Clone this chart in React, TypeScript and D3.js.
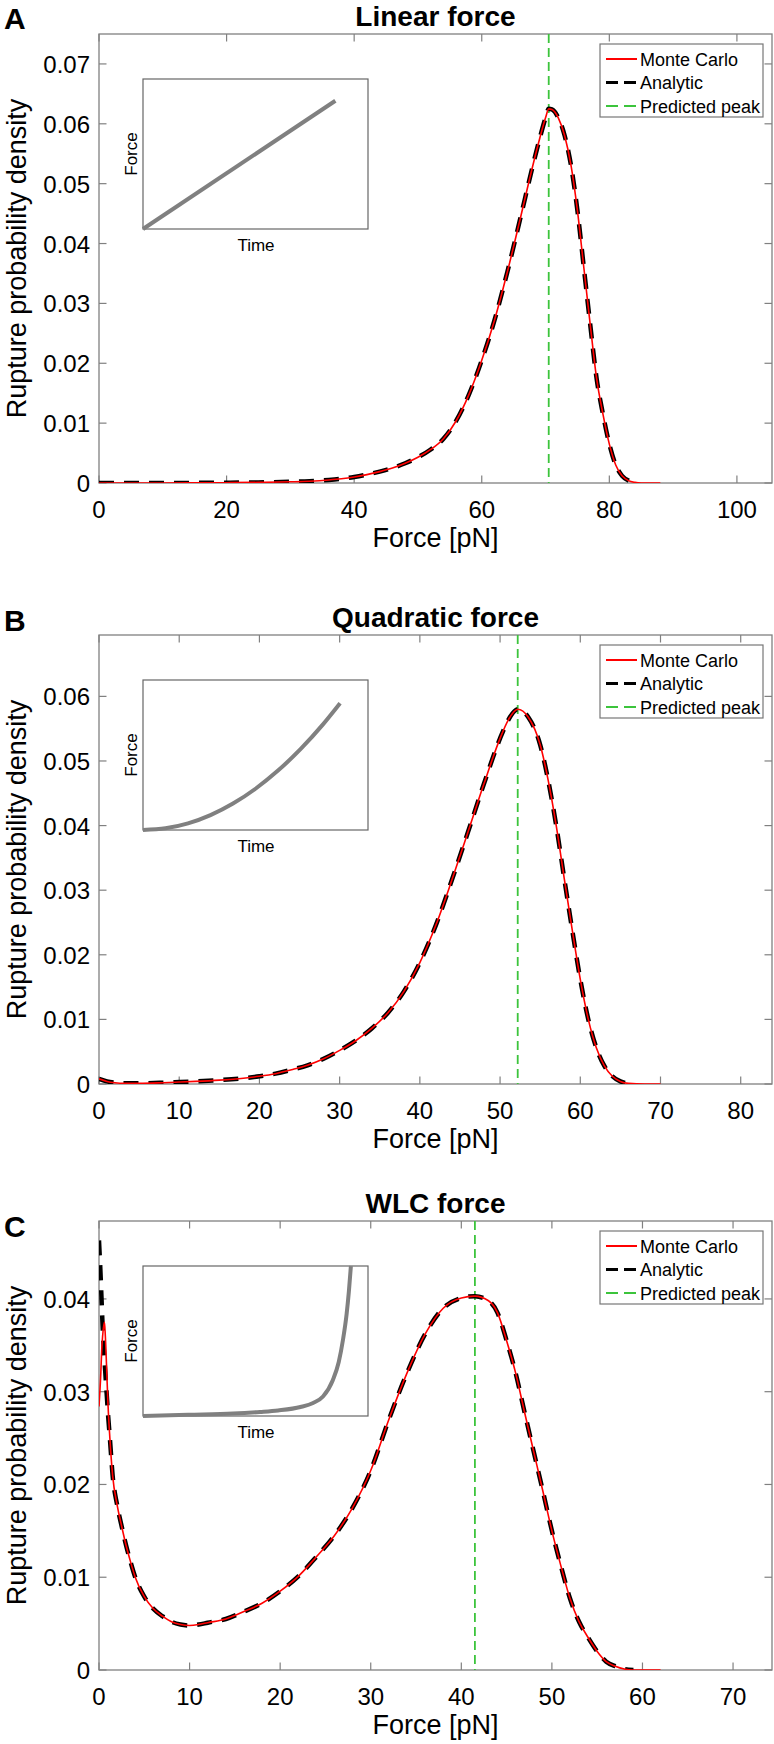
import * as d3 from "d3"

// ---- data ----
// Panel A: linear force loading
const linForce = [0, 5, 10, 15, 20, 25, 30, 33, 36, 38, 40, 42, 44, 46, 48, 50, 52, 54, 56, 58, 60, 62, 64, 66, 68, 69, 70, 70.5, 71, 72, 73, 74, 75, 76, 77, 78, 79, 80, 81, 82, 83, 84, 85, 86, 88]
const linMC = [0, 0, 0, 0.00002, 0.00005, 0.0001, 0.0002, 0.0003, 0.0005, 0.0007, 0.001, 0.0014, 0.0019, 0.0025, 0.0033, 0.0043, 0.0056, 0.0074, 0.0104, 0.0148, 0.0205, 0.0272, 0.0352, 0.044, 0.053, 0.0572, 0.061, 0.0625, 0.0624, 0.061, 0.058, 0.053, 0.0455, 0.036, 0.0265, 0.0175, 0.0115, 0.0065, 0.003, 0.0012, 0.0004, 0.0001, 0, 0, 0]
const linAnalytic = [0, 0, 0, 0.00002, 0.00005, 0.0001, 0.0002, 0.0003, 0.0005, 0.0007, 0.001, 0.0014, 0.0019, 0.0025, 0.0033, 0.0043, 0.0056, 0.0074, 0.0104, 0.0148, 0.0205, 0.0272, 0.0352, 0.044, 0.053, 0.0572, 0.061, 0.0625, 0.0624, 0.061, 0.058, 0.053, 0.0455, 0.036, 0.0265, 0.0175, 0.0115, 0.0065, 0.003, 0.0012, 0.0004, 0.0001, null, null, null]

// Panel B: quadratic force loading
const quadForce = [0, 1, 2, 3, 5, 8, 10, 12, 15, 18, 20, 22, 24, 26, 28, 30, 32, 34, 36, 38, 40, 42, 44, 46, 48, 50, 51, 52.2, 53.5, 55, 56, 57, 58, 59, 60, 61, 62, 63, 64, 65, 66, 68, 70]
const quadMC = [0.0008, 0.0004, 0.0002, 0.0001, 0.0001, 0.0002, 0.0003, 0.0004, 0.0006, 0.0009, 0.0012, 0.0016, 0.0022, 0.0029, 0.0039, 0.0052, 0.0067, 0.0086, 0.011, 0.0143, 0.0188, 0.0246, 0.0316, 0.039, 0.0465, 0.0535, 0.0563, 0.058, 0.0568, 0.0525, 0.047, 0.04, 0.0318, 0.0238, 0.0162, 0.01, 0.0056, 0.0028, 0.0012, 0.0004, 0.0001, 0, 0]
const quadAnalytic = [0.0008, 0.0004, 0.0002, 0.0001, 0.0001, 0.0002, 0.0003, 0.0004, 0.0006, 0.0009, 0.0012, 0.0016, 0.0022, 0.0029, 0.0039, 0.0052, 0.0067, 0.0086, 0.011, 0.0143, 0.0188, 0.0246, 0.0316, 0.039, 0.0465, 0.0535, 0.0563, 0.058, 0.0568, 0.0525, 0.047, 0.04, 0.0318, 0.0238, 0.0162, 0.01, 0.0056, 0.0028, 0.0012, 0.0004, 0.0001, null, null]

// Panel C: worm-like-chain force loading
const wlcForce = [0, 0.2, 0.3, 0.4, 0.6, 0.7, 0.9, 1, 1.2, 1.5, 2, 2.5, 3, 3.5, 4, 5, 6, 7, 8, 9, 10, 11, 12, 14, 16, 18, 20, 22, 24, 26, 28, 30, 32, 34, 36, 38, 40, 41.5, 43, 44, 45, 46, 47, 48, 49, 50, 51, 52, 53, 54, 55, 56, 57, 58, 59, 60, 62]
const wlcMC = [0.0284, 0.032, 0.0345, 0.036, 0.0375, 0.036, 0.031, 0.0285, 0.025, 0.021, 0.0178, 0.0155, 0.0134, 0.0116, 0.01, 0.0079, 0.0066, 0.0058, 0.0052, 0.0049, 0.0048, 0.0049, 0.0051, 0.0055, 0.0063, 0.0072, 0.0085, 0.0101, 0.0122, 0.0145, 0.0175, 0.0215, 0.027, 0.032, 0.0362, 0.039, 0.0401, 0.0403, 0.0398, 0.0385, 0.0355, 0.032, 0.0277, 0.0235, 0.0193, 0.015, 0.0112, 0.0077, 0.0052, 0.0035, 0.002, 0.0009, 0.0004, 0.0001, 0, 0, 0]
const wlcAnalytic = [0.0463, 0.042, 0.0395, 0.037, 0.0335, 0.032, 0.029, 0.0275, 0.025, 0.021, 0.0178, 0.0155, 0.0134, 0.0116, 0.01, 0.0079, 0.0066, 0.0058, 0.0052, 0.0049, 0.0048, 0.0049, 0.0051, 0.0055, 0.0063, 0.0072, 0.0085, 0.0101, 0.0122, 0.0145, 0.0175, 0.0215, 0.027, 0.032, 0.0362, 0.039, 0.0401, 0.0403, 0.0398, 0.0385, 0.0355, 0.032, 0.0277, 0.0235, 0.0193, 0.015, 0.0112, 0.0077, 0.0052, 0.0035, 0.002, 0.0009, 0.0004, 0.0001, 0, null, null]

const peakForce = [70.5, 52.2, 41.5]
const titles = ["Linear force", "Quadratic force", "WLC force"]
const letters = ["A", "B", "C"]
const xTicks = [d3.range(0, 101, 20), d3.range(0, 81, 10), d3.range(0, 71, 10)]
const yTicks = [d3.range(0, 0.0701, 0.01), d3.range(0, 0.0601, 0.01), d3.range(0, 0.0401, 0.01)]
const legendLabels = ["Monte Carlo", "Analytic", "Predicted peak"]

// inset sketches (time vs force, normalised)
const linInsetT = [0, 0.855]
const linInsetF = [0, 0.855]
const quadInsetT = [0, 0.1, 0.2, 0.3, 0.4, 0.5, 0.6, 0.7, 0.8, 0.876]
const quadInsetF = [0, 0.011, 0.044, 0.099, 0.176, 0.275, 0.396, 0.539, 0.704, 0.845]
const wlcInsetT = [0, 0.2, 0.4, 0.52, 0.6, 0.7, 0.756, 0.8, 0.844, 0.87, 0.889, 0.905, 0.915, 0.924]
const wlcInsetF = [0, 0.008, 0.016, 0.027, 0.037, 0.06, 0.087, 0.13, 0.24, 0.36, 0.51, 0.68, 0.83, 1.0]

// ---- layout ----
const W = 774
const H = 1744
const L = 99
const R = 772
const PH = 449
const FONT = "Helvetica, Arial, 'Liberation Sans', sans-serif"
const AXIS = "#808080"

const panels = [
  { top: 34, xMax: 105.5, yMax: 0.075, force: linForce, mc: linMC, an: linAnalytic, it: linInsetT, iF: linInsetF, letterDy: -5 },
  { top: 635, xMax: 83.9, yMax: 0.0695, force: quadForce, mc: quadMC, an: quadAnalytic, it: quadInsetT, iF: quadInsetF, letterDy: -4 },
  { top: 1221, xMax: 74.3, yMax: 0.0484, force: wlcForce, mc: wlcMC, an: wlcAnalytic, it: wlcInsetT, iF: wlcInsetF, letterDy: 16 },
]

function Panel({ idx }: { idx: number }) {
  const p = panels[idx]
  const bottom = p.top + PH
  const x = d3.scaleLinear().domain([0, p.xMax]).range([L, R])
  const y = d3.scaleLinear().domain([0, p.yMax]).range([bottom, p.top])

  const line = d3
    .line<[number, number | null]>()
    .defined((d) => d[1] !== null)
    .x((d) => x(d[0]))
    .y((d) => y(d[1] as number))
    .curve(d3.curveMonotoneX)

  const mcPts = p.force.map((f, i) => [f, p.mc[i]] as [number, number | null])
  const anPts = p.force.map((f, i) => [f, p.an[i]] as [number, number | null])

  // inset
  const ix = d3.scaleLinear().domain([0, 1]).range([143, 368])
  const iy = d3.scaleLinear().domain([0, 1]).range([p.top + 195, p.top + 45])
  const insetLine = d3
    .line<number>()
    .x((_, i) => ix(p.it[i]))
    .y((d) => iy(d))
    .curve(d3.curveMonotoneX)

  const clipId = `clip${idx}`
  const legX = 600
  const legY = p.top + 10
  const tickLen = 7.5

  return (
    <g>
      <defs>
        <clipPath id={clipId}>
          <rect x={L} y={p.top} width={R - L} height={PH} />
        </clipPath>
      </defs>

      {/* panel letter and title */}
      <text x={4} y={p.top + p.letterDy} fontFamily={FONT} fontSize={30} fontWeight="bold">
        {letters[idx]}
      </text>
      <text x={(L + R) / 2} y={p.top - 8} textAnchor="middle" fontFamily={FONT} fontSize={28} fontWeight="bold">
        {titles[idx]}
      </text>

      {/* axes box */}
      <rect x={L} y={p.top} width={R - L} height={PH} fill="none" stroke={AXIS} strokeWidth={1.3} />

      {/* x ticks */}
      {xTicks[idx].map((t) => (
        <g key={`x${t}`}>
          <line x1={x(t)} x2={x(t)} y1={bottom} y2={bottom - tickLen} stroke={AXIS} strokeWidth={1.2} />
          <line x1={x(t)} x2={x(t)} y1={p.top} y2={p.top + tickLen} stroke={AXIS} strokeWidth={1.2} />
          <text x={x(t)} y={bottom + 35} textAnchor="middle" fontFamily={FONT} fontSize={24}>
            {t}
          </text>
        </g>
      ))}

      {/* y ticks */}
      {yTicks[idx].map((t) => (
        <g key={`y${t}`}>
          <line x1={L} x2={L + tickLen} y1={y(t)} y2={y(t)} stroke={AXIS} strokeWidth={1.2} />
          <line x1={R} x2={R - tickLen} y1={y(t)} y2={y(t)} stroke={AXIS} strokeWidth={1.2} />
          <text x={L - 9} y={y(t) + 9} textAnchor="end" fontFamily={FONT} fontSize={24}>
            {t < 1e-9 ? "0" : t.toFixed(2)}
          </text>
        </g>
      ))}

      {/* axis labels */}
      <text x={(L + R) / 2} y={bottom + 64} textAnchor="middle" fontFamily={FONT} fontSize={27}>
        Force [pN]
      </text>
      <text
        transform={`translate(26,${p.top + PH / 2}) rotate(-90)`}
        textAnchor="middle"
        fontFamily={FONT}
        fontSize={27}
      >
        Rupture probability density
      </text>

      {/* curves */}
      <g clipPath={`url(#${clipId})`}>
        <line
          x1={x(peakForce[idx])}
          x2={x(peakForce[idx])}
          y1={p.top}
          y2={bottom}
          stroke="#3cc43c"
          strokeWidth={1.8}
          strokeDasharray="9 5"
        />
        <path d={line(anPts) ?? ""} fill="none" stroke="#000" strokeWidth={4.5} strokeDasharray="15 10" />
        <path d={line(mcPts) ?? ""} fill="none" stroke="#f00" strokeWidth={1.6} />
      </g>

      {/* inset */}
      <rect x={143} y={p.top + 45} width={225} height={150} fill="#fff" stroke="#666" strokeWidth={1.2} />
      <path d={insetLine(p.iF) ?? ""} fill="none" stroke="#808080" strokeWidth={4} />
      <text x={256} y={p.top + 195 + 22} textAnchor="middle" fontFamily={FONT} fontSize={17}>
        Time
      </text>
      <text
        transform={`translate(137,${p.top + 120}) rotate(-90)`}
        textAnchor="middle"
        fontFamily={FONT}
        fontSize={17}
      >
        Force
      </text>

      {/* legend */}
      <rect x={legX} y={legY} width={163} height={73} fill="#fff" stroke="#777" strokeWidth={1.2} />
      {legendLabels.map((lab, i) => {
        const ly = legY + 15 + i * 23.5
        const stroke = i === 0 ? "#f00" : i === 1 ? "#000" : "#3cc43c"
        return (
          <g key={lab}>
            <line
              x1={legX + 6}
              x2={legX + 37}
              y1={ly}
              y2={ly}
              stroke={stroke}
              strokeWidth={i === 1 ? 3 : 2}
              strokeDasharray={i === 0 ? undefined : "12 6"}
            />
            <text x={legX + 40} y={ly + 6.5} fontFamily={FONT} fontSize={18}>
              {lab}
            </text>
          </g>
        )
      })}
    </g>
  )
}

export default function App() {
  return (
    <svg
      width={W}
      height={H}
      viewBox={`0 0 ${W} ${H}`}
      style={{ position: "absolute", left: 0, top: 0, background: "#fff" }}
    >
      <rect width={W} height={H} fill="#fff" />
      {panels.map((_, i) => (
        <Panel key={i} idx={i} />
      ))}
    </svg>
  )
}
